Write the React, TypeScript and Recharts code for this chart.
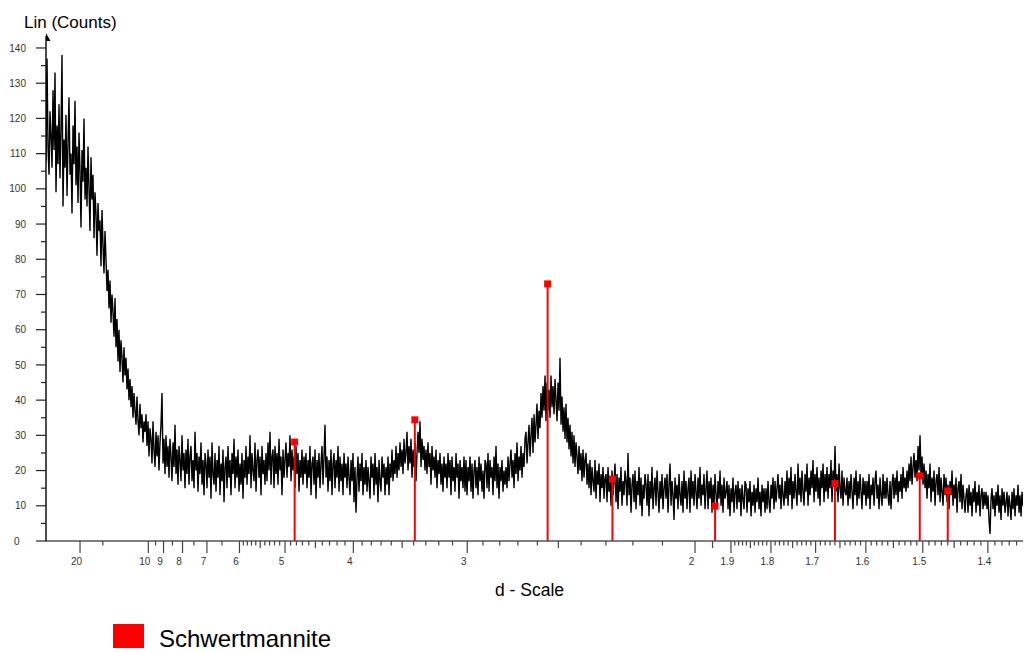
import React from 'react';
import { ComposedChart, Line, Scatter, XAxis, YAxis, ReferenceLine, ReferenceDot } from 'recharts';

// Scan: x axis is linear in 1/d (Å⁻¹); counts
const scanStart = 0.0251;
const scanStep = 0.00073175;
const counts: number[] = [
  108, 137, 112, 104, 122, 115, 106, 128, 111, 133, 99, 118, 107, 124, 103, 117, 138, 95, 114, 106,
  121, 98, 113, 126, 104, 110, 93, 118, 107, 125, 101, 112, 96, 116, 105, 89, 111, 102, 120, 97,
  106, 95, 112, 100, 88, 109, 97, 104, 86, 99, 93, 81, 96, 88, 91, 78, 94, 84, 76, 88,
  80, 71, 77, 66, 74, 62, 70, 65, 58, 69, 55, 63, 51, 60, 48, 57, 52, 45, 55, 47,
  52, 43, 49, 40, 46, 38, 44, 35, 42, 37, 33, 41, 34, 30, 39, 32, 36, 28, 34, 31,
  36, 27, 34, 24, 32, 29, 22, 34, 26, 21, 31, 24, 30, 20, 28, 33, 42, 22, 29, 19,
  30, 21, 27, 18, 29, 24, 17, 28, 21, 33, 19, 26, 16, 27, 23, 17, 30, 20, 25, 15,
  26, 19, 29, 16, 24, 27, 17, 23, 15, 31, 20, 25, 14, 24, 19, 28, 16, 23, 13, 25,
  22, 15, 26, 18, 24, 12, 28, 19, 16, 25, 14, 23, 18, 27, 13, 22, 17, 26, 11, 21,
  24, 15, 27, 18, 23, 13, 25, 19, 29, 15, 24, 18, 26, 14, 22, 16, 25, 12, 23, 18,
  27, 16, 24, 19, 30, 15, 25, 20, 17, 28, 14, 23, 26, 18, 24, 13, 27, 19, 23, 16,
  25, 17, 28, 20, 31, 16, 24, 26, 15, 27, 19, 25, 16, 29, 20, 24, 13, 26, 18, 23,
  28, 18, 25, 21, 30, 17, 26, 20, 24, 15, 27, 19, 25, 14, 23, 18, 26, 16, 24, 19,
  25, 15, 23, 18, 27, 13, 22, 24, 16, 26, 12, 23, 18, 25, 15, 22, 27, 16, 24, 33,
  18, 24, 14, 23, 17, 26, 13, 22, 25, 15, 23, 18, 27, 14, 24, 17, 22, 13, 25, 18,
  22, 15, 24, 18, 13, 23, 17, 25, 11, 21, 8, 18, 24, 14, 22, 17, 25, 13, 21, 16,
  23, 14, 21, 17, 12, 24, 18, 22, 13, 25, 16, 21, 11, 23, 17, 14, 24, 18, 22, 13,
  21, 16, 24, 13, 22, 18, 26, 17, 23, 19, 27, 18, 25, 20, 28, 21, 26, 19, 29, 22,
  25, 31, 20, 27, 22, 29, 18, 26, 21, 28, 17, 25, 31, 25, 34, 21, 29, 23, 27, 20,
  26, 19, 28, 21, 25, 16, 27, 20, 24, 18, 26, 15, 23, 19, 25, 16, 22, 14, 24, 18,
  22, 15, 25, 18, 23, 13, 24, 17, 21, 14, 25, 18, 22, 12, 23, 17, 21, 15, 24, 14,
  23, 13, 21, 17, 24, 14, 22, 12, 20, 23, 15, 21, 13, 24, 17, 22, 14, 20, 12, 23,
  22, 15, 25, 14, 23, 18, 21, 13, 24, 17, 27, 15, 22, 12, 21, 17, 23, 14, 20, 16,
  21, 15, 24, 17, 22, 26, 18, 23, 15, 25, 19, 28, 17, 24, 20, 27, 18, 25, 21, 29,
  31, 22, 28, 33, 24, 30, 35, 25, 36, 28, 33, 39, 29, 37, 32, 42, 35, 44, 37, 47,
  34, 45, 37, 43, 35, 47, 38, 44, 36, 46, 40, 34, 45, 37, 52, 33, 41, 31, 38, 29,
  39, 28, 35, 26, 33, 24, 31, 22, 30, 21, 28, 24, 19, 27, 20, 25, 17, 26, 18, 23,
  25, 16, 22, 15, 23, 13, 21, 17, 14, 23, 12, 20, 16, 22, 11, 19, 15, 21, 12, 18,
  19, 11, 21, 14, 18, 10, 20, 13, 17, 22, 11, 19, 9, 18, 14, 21, 10, 17, 13, 20,
  17, 10, 25, 13, 18, 8, 16, 19, 11, 20, 9, 17, 13, 21, 10, 18, 7, 16, 12, 19,
  16, 10, 19, 7, 17, 12, 21, 9, 15, 18, 10, 20, 14, 8, 17, 12, 19, 9, 15, 18,
  12, 19, 8, 16, 22, 10, 17, 13, 6, 18, 12, 16, 9, 19, 13, 10, 17, 8, 20, 12,
  17, 9, 15, 18, 8, 20, 12, 17, 10, 19, 14, 9, 18, 12, 21, 10, 16, 13, 19, 9,
  15, 20, 9, 17, 12, 18, 8, 16, 10, 19, 13, 9, 17, 12, 20, 10, 16, 8, 18, 12,
  14, 17, 9, 16, 7, 15, 11, 18, 8, 14, 16, 9, 17, 11, 15, 7, 16, 12, 9, 17,
  16, 8, 15, 11, 17, 7, 14, 10, 16, 8, 15, 11, 18, 9, 14, 7, 16, 11, 15, 8,
  15, 9, 17, 11, 8, 16, 12, 18, 9, 17, 11, 15, 19, 12, 16, 9, 18, 13, 10, 17,
  12, 20, 10, 18, 13, 21, 9, 17, 12, 19, 14, 10, 22, 13, 18, 11, 20, 14, 10, 19,
  14, 22, 10, 18, 13, 20, 15, 23, 11, 19, 14, 21, 12, 18, 10, 20, 15, 22, 11, 19,
  14, 21, 12, 19, 15, 23, 11, 20, 16, 27, 14, 19, 11, 22, 15, 12, 20, 10, 18, 14,
  13, 18, 10, 17, 12, 19, 14, 9, 18, 13, 20, 10, 17, 12, 19, 14, 9, 18, 13, 17,
  10, 17, 12, 19, 9, 16, 13, 18, 10, 17, 20, 12, 16, 9, 18, 13, 10, 19, 12, 17,
  12, 18, 13, 10, 17, 9, 16, 19, 12, 18, 13, 20, 11, 17, 14, 19, 12, 21, 15, 18,
  14, 20, 15, 22, 17, 24, 16, 21, 25, 18, 23, 17, 27, 20, 30, 18, 24, 16, 22, 15,
  20, 12, 19, 15, 22, 11, 18, 14, 20, 10, 17, 19, 13, 21, 11, 18, 14, 10, 19, 13,
  18, 11, 16, 9, 17, 13, 20, 10, 16, 12, 18, 8, 15, 17, 11, 19, 9, 16, 12, 8,
  13, 15, 8, 16, 10, 14, 7, 15, 11, 17, 8, 14, 10, 16, 7, 13, 15, 9, 14, 10,
  14, 9, 13, 6, 2, 12, 15, 9, 13, 7, 14, 10, 16, 8, 13, 6, 15, 10, 14, 8,
  11, 14, 7, 13, 10, 6, 14, 9, 15, 7, 13, 10, 16, 8, 13, 7, 14, 10,
];

// Schwertmannite reference lines (d in Å, intensity in counts)
const stickD = [4.83, 3.39, 2.55, 2.275, 1.943, 1.66, 1.505, 1.46];
const stickI = [28.1, 34.4, 73.0, 17.6, 9.9, 16.3, 18.5, 14.2];

// d-scale ticks
const majorD = [20, 10, 9, 8, 7, 6, 5, 4, 3, 2, 1.9, 1.8, 1.7, 1.6, 1.5, 1.4];
const mediumD = [5.5, 4.5, 3.5, 2.5, 1.95, 1.85, 1.75, 1.65, 1.55, 1.45];
const coarseMinorD = [15, 9.5, 8.5, 7.5, 6.5];
const fineMinorRanges: [number, number, number][] = [
  [5.9, 4.1, 0.1],
  [3.9, 2.1, 0.1],
  [1.89, 1.36, 0.01],
];

const yTicks = [0, 5, 10, 15, 20, 25, 30, 35, 40, 45, 50, 55, 60, 65, 70, 75, 80, 85, 90, 95, 100, 105, 110, 115, 120, 125, 130, 135, 140];

const xMin = 0.0251;
const xMax = 0.74;
const yMax = 143.4;

const FONT = '"Liberation Sans", Arial, Helvetica, sans-serif';

type XT = { v: number; kind: 'major' | 'medium' | 'minor'; label: string };
const xTicks: XT[] = [];
majorD.forEach((d) => xTicks.push({ v: 1 / d, kind: 'major', label: String(d) }));
mediumD.forEach((d) => xTicks.push({ v: 1 / d, kind: 'medium', label: '' }));
coarseMinorD.forEach((d) => xTicks.push({ v: 1 / d, kind: 'minor', label: '' }));
fineMinorRanges.forEach(([a, b, s]) => {
  const n = Math.round((a - b) / s);
  for (let i = 0; i <= n; i++) {
    const d = Math.round((a - i * s) * 100) / 100;
    if (majorD.includes(d) || mediumD.includes(d)) continue;
    xTicks.push({ v: 1 / d, kind: 'minor', label: '' });
  }
});
const xTickValues = xTicks.map((t) => t.v).filter((v) => v >= xMin && v <= xMax);

const traceData = counts.map((c, i) => ({ x: scanStart + i * scanStep, y: c }));
const stickData = stickD.map((d, i) => ({ x: 1 / d, y: stickI[i] }));

const XTick = (props: any) => {
  const { x, y, payload } = props;
  const t = xTicks.find((tt) => Math.abs(tt.v - payload.value) < 1e-7);
  if (!t) return <g />;
  const len = t.kind === 'major' ? 12 : t.kind === 'medium' ? 7 : 4.5;
  return (
    <g>
      <line x1={x} x2={x} y1={y} y2={y + len} stroke="#444" strokeWidth={1.2} />
      {t.kind === 'major' && (
        <text x={x - 3.5} y={y + 24} textAnchor="middle" fontSize={10} fill="#333" fontFamily={FONT}>
          {t.label}
        </text>
      )}
    </g>
  );
};

const YTick = (props: any) => {
  const { x, y, payload } = props;
  const v = payload.value as number;
  const major = v % 10 === 0;
  return (
    <g>
      <line x1={x - (major ? 10 : 5)} x2={x} y1={y} y2={y} stroke="#222" strokeWidth={1.2} />
      {major && (
        <text
          x={v === 0 ? x - 26.5 : x - 20}
          y={y}
          dy={3.6}
          textAnchor="end"
          fontSize={10}
          fill="#333"
          fontFamily={FONT}
        >
          {v}
        </text>
      )}
    </g>
  );
};

const Square = (props: any) => {
  const { cx, cy } = props;
  return <rect x={cx - 3.5} y={cy - 3.5} width={7} height={7} fill="#ff0000" />;
};

const Arrow = (props: any) => {
  const { cx, cy } = props;
  return <path d={`M${cx},${cy - 3} L${cx + 4.5},${cy + 5} L${cx},${cy + 5} Z`} fill="#000" />;
};

export default function App() {
  return (
    <div style={{ position: 'absolute', left: 0, top: 0, width: 1025, height: 653, background: '#fff' }}>
      <ComposedChart
        width={1025}
        height={653}
        data={traceData}
        margin={{ top: 36, right: 2, left: 0, bottom: 0 }}
      >
        <XAxis
          dataKey="x"
          type="number"
          scale="linear"
          domain={[xMin, xMax]}
          allowDataOverflow
          ticks={xTickValues}
          interval={0}
          tick={<XTick />}
          tickLine={false}
          tickSize={0}
          tickMargin={0}
          height={112}
          axisLine={{ stroke: '#555', strokeWidth: 1.4 }}
        />
        <YAxis
          type="number"
          domain={[0, yMax]}
          allowDataOverflow
          ticks={yTicks}
          interval={0}
          tick={<YTick />}
          tickLine={false}
          tickSize={0}
          tickMargin={0}
          width={46}
          axisLine={{ stroke: '#000', strokeWidth: 1.4 }}
        />
        <Line
          dataKey="y"
          type="linear"
          stroke="#000"
          strokeWidth={1.4}
          dot={false}
          isAnimationActive={false}
        />
        {stickData.map((p, i) => (
          <ReferenceLine
            key={i}
            segment={[{ x: p.x, y: 0 }, { x: p.x, y: p.y }]}
            stroke="#ff0000"
            strokeWidth={2}
          />
        ))}
        <Scatter data={stickData} dataKey="y" shape={<Square />} isAnimationActive={false} />
        <ReferenceDot x={xMin} y={yMax} ifOverflow="visible" shape={<Arrow />} />
      </ComposedChart>
      <svg
        width={1025}
        height={653}
        style={{ position: 'absolute', left: 0, top: 0, pointerEvents: 'none' }}
      >
        <text x={24} y={28} fontSize={17} fill="#000" fontFamily={FONT}>
          Lin (Counts)
        </text>
        <text x={495} y={596} fontSize={17.5} fill="#000" fontFamily={FONT}>
          d - Scale
        </text>
        <rect x={113} y={624} width={31} height={24} fill="#ff0000" />
        <text x={159} y={647} fontSize={24} fill="#000" fontFamily={FONT}>
          Schwertmannite
        </text>
      </svg>
    </div>
  );
}
